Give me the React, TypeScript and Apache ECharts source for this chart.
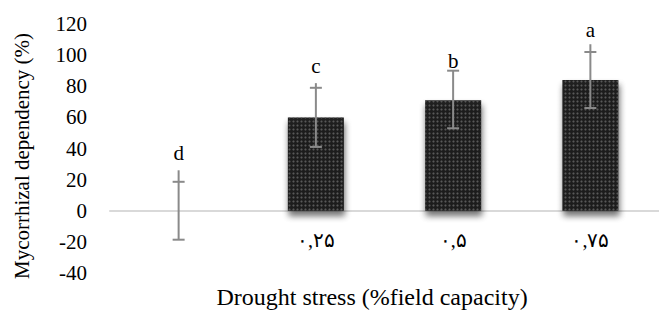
import React, { useEffect, useRef } from "react";
import * as echarts from "echarts";

const categories = ["", "۰,۲۵", "۰,۵", "۰,۷۵"];
const means = [0, 60, 71, 84];
const errLow = [-18.6, 41, 53, 66];
const errHigh = [18.6, 79, 90, 102];
const errLineTop = [26, 82, 90, 107];
const letters = ["d", "c", "b", "a"];
const letterPos = [37, 93, 96, 116];
const yTicks = { min: -40, max: 120, interval: 20 };

const FONT = "Times New Roman, Liberation Serif, DejaVu Serif, serif";

export default function App() {
  const ref = useRef<HTMLDivElement>(null);
  useEffect(() => {
    if (!ref.current) return;
    const chart = echarts.init(ref.current, undefined, { renderer: "svg" });
    const errData = categories.map((_, i) => [i, errLow[i], errHigh[i], errLineTop[i]]);
    const letterData = categories.map((_, i) => [i, letterPos[i], letters[i]]);
    chart.setOption({
      animation: false,
      textStyle: { fontFamily: FONT },
      grid: { left: 110, width: 556, top: 24, height: 249 },
      xAxis: {
        type: "category",
        data: categories,
        axisLine: { show: true, onZero: true, lineStyle: { color: "#d9d9d9", width: 2 } },
        axisTick: { show: false },
        axisLabel: {
          color: "#000",
          fontFamily: FONT,
          fontSize: 20,
          margin: -33,
          verticalAlign: "middle",
        },
      },
      yAxis: {
        type: "value",
        min: yTicks.min,
        max: yTicks.max,
        interval: yTicks.interval,
        axisLine: { show: false },
        axisTick: { show: false },
        splitLine: { show: false },
        axisLabel: { color: "#000", fontFamily: FONT, fontSize: 21, margin: 23 },
      },
      graphic: [
        {
          type: "text",
          x: 22,
          y: 156,
          rotation: Math.PI / 2,
          style: {
            text: "Mycorrhizal dependency (%)",
            fontFamily: FONT,
            fontSize: 21,
            fill: "#000",
            align: "center",
            verticalAlign: "middle",
          },
        },
        {
          type: "text",
          x: 372,
          y: 297,
          style: {
            text: "Drought stress (%field capacity)",
            fontFamily: FONT,
            fontSize: 24,
            fill: "#000",
            align: "center",
            verticalAlign: "middle",
          },
        },
      ],
      series: [
        {
          type: "bar",
          data: means,
          barWidth: 56,
          itemStyle: {
            color: "#222222",
            shadowColor: "rgba(0,0,0,0.45)",
            shadowBlur: 6,
            shadowOffsetY: 5,
            shadowOffsetX: 1,
            decal: {
              symbol: "diamond",
              symbolSize: 0.8,
              color: "rgba(90,90,90,0.95)",
              dashArrayX: [3, 1],
              dashArrayY: [3, 1],
              rotation: 0,
            },
          },
        },
        {
          type: "custom",
          data: errData,
          z: 5,
          renderItem: (params: any, api: any) => {
            const x = api.value(0);
            const lo = api.coord([x, api.value(1)]);
            const hi = api.coord([x, api.value(2)]);
            const top = api.coord([x, api.value(3)]);
            const style = { stroke: "#8a8a8a", lineWidth: 2 };
            const half = 6;
            return {
              type: "group",
              children: [
                { type: "line", shape: { x1: lo[0], y1: lo[1], x2: top[0], y2: top[1] }, style },
                { type: "line", shape: { x1: hi[0] - half, y1: hi[1], x2: hi[0] + half, y2: hi[1] }, style },
                { type: "line", shape: { x1: lo[0] - half, y1: lo[1], x2: lo[0] + half, y2: lo[1] }, style },
              ],
            };
          },
        },
        {
          type: "custom",
          data: letterData,
          z: 6,
          renderItem: (params: any, api: any) => {
            const p = api.coord([api.value(0), api.value(1)]);
            return {
              type: "text",
              x: p[0],
              y: p[1],
              style: {
                text: letters[params.dataIndex],
                fontFamily: FONT,
                fontSize: 21,
                fill: "#000",
                align: "center",
                verticalAlign: "middle",
              },
            };
          },
        },
      ],
    });
    return () => chart.dispose();
  }, []);
  return <div ref={ref} style={{ width: 659, height: 314, position: "absolute", left: 0, top: 0 }} />;
}
